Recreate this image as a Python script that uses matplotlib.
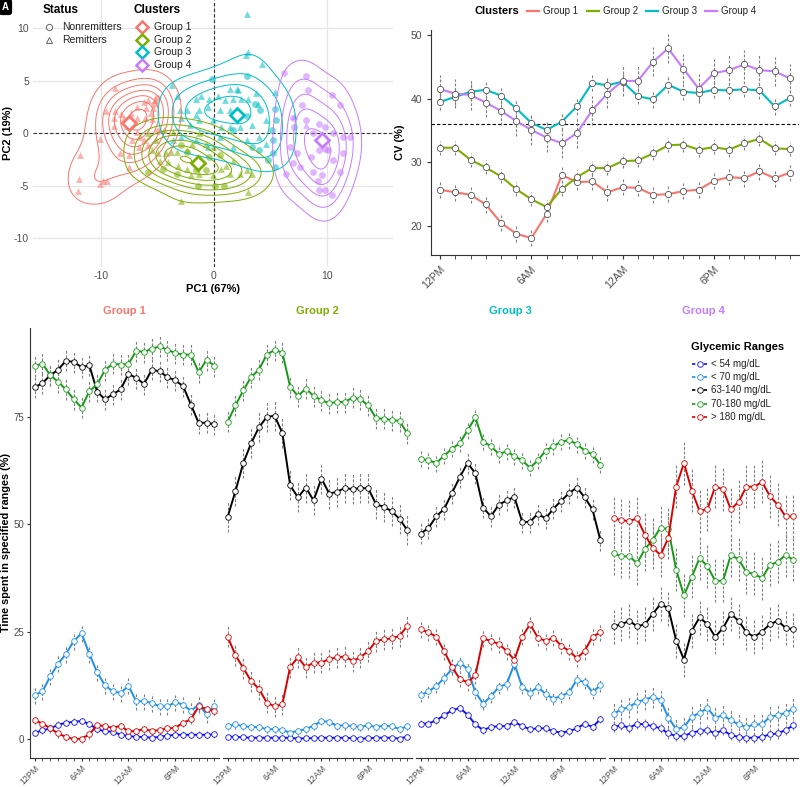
import numpy as np
import matplotlib
matplotlib.use("Agg")
import matplotlib.pyplot as plt
from matplotlib.lines import Line2D

plt.rcParams["font.family"] = ["Liberation Sans", "DejaVu Sans"]
plt.rcParams["axes.unicode_minus"] = False

W, H = 800, 787

# ---------------- data ----------------
CLUSTERS = ["Group 1", "Group 2", "Group 3", "Group 4"]
CLUSTER_COLORS = ["#F8766D", "#7CAE00", "#00BFC4", "#C77CFF"]
TIME_LABELS = ["12PM", "6AM", "12AM", "6PM"]
TIME_TICKS = [0, 6, 12, 18]
N_T = 24

# PCA scores (R = remitter, N = nonremitter)
g1_pc1 = [-8.7, -11.8, -11.9, -12.0, -10.1, -9.4, -10.1, -8.8, -9.5, -8.7, -8.2, -8.8, -7.9,
          -7.4, -6.8, -6.1, -6.5, -6.2, -5.8, -5.5, -5.4, -6.0, -7.3, -7.5, -9.8, -8.3, -7.5,
          -6.8, -6.2, -5.8, -5.2, -5.6, -6.8, -7.7, -7.2, -6.6, -5.3, -5.0, -4.9]
g1_pc2 = [4.3, -2.1, -4.4, -5.5, -4.9, -4.6, -0.6, 0.7, 2.1, 2.1, 1.8, 1.4, 1.4,
          1.1, 1.4, 1.4, -0.4, -0.7, -1.1, 1.3, 2.4, 2.4, 1.9, -3.2, -4.6, -1.9, -2.1,
          2.5, 3.0, 3.1, 3.1, 1.9, 0.1, 0.7, -0.7, -1.3, 2.8, 3.3, 0.2]
g1_status = "R" * 36 + "N" * 3

g2_pc1 = [-2.9, -5.5, -4.9, -4.2, -3.8, -3.3, -4.8, -4.1, -3.2, -2.4, -2.0, -1.3, -1.6,
          -2.4, -1.9, -0.7, -0.1, -0.1, 0.6, 1.1, 1.7, 1.4, 2.3, 3.0, 3.4, 2.9, -5.1,
          -5.8, -4.4, -3.6, -1.3,
          -5.8, -4.5, -3.3, -1.4, 0.1, 0.9, -0.4, 0.5, -2.4, -0.7, -1.6, -2.9]
g2_pc2 = [-6.5, -1.6, -1.9, -1.9, -1.8, -1.8, -2.7, -2.8, -3.1, -3.4, -4.0, -3.9, -2.6,
          -1.6, -1.0, -1.0, -1.3, -4.0, -3.4, -3.1, -2.7, -3.9, -3.9, -5.6, -3.9, -3.5, -0.7,
          0.0, 0.3, 0.1, 0.0,
          -3.7, -3.4, -3.9, -5.0, -5.0, -5.0, -2.3, -2.1, -1.8, -3.5, -3.5, -1.1]
g2_status = "R" * 31 + "N" * 12

g3_pc1 = [2.9, 3.0, 2.8, 4.2, 2.0, 2.1, 1.4, 2.4, 1.7, 1.0, 0.4, -0.4, -1.1, -1.6, -3.3,
          -3.7, -3.0, -2.4, -1.3, -0.5, 0.5, 1.4, 3.0, 3.7, 3.9, 4.6, 5.4, -1.6, -2.9, -2.1,
          -1.3, -0.1, 0.6, 1.4, 2.3, 3.4, 0.5, 1.7, 2.9, 4.0, 4.6, -1.6, -0.5, -2.9, -3.6,
          -0.2, 3.6, 4.1, 5.4, 5.5, 5.1, 5.2, 5.2, 4.8, 5.4, 4.0, 3.4, 2.9, 1.7, 2.9]
g3_pc2 = [11.3, 7.7, 7.4, 6.6, 4.2, 4.1, 4.2, 3.2, 3.2, 3.1, 3.5, 3.2, 3.5, 3.2, 3.5,
          4.6, 2.2, 2.2, 2.2, 2.5, 2.2, 2.2, 3.2, 3.8, 2.8, 1.2, 3.9, 1.7, 1.4, 0.8,
          1.2, 1.2, 0.6, 0.6, 0.6, 0.8, -0.4, -1.3, -0.7, -0.4, -1.0, -0.7, -1.3, -0.4, -0.7,
          5.1, 2.8, 2.2, 2.3, 1.2, 0.3, -0.7, -1.9, -2.6, -3.2, -1.6, -1.3, 5.4, 0.3, 1.6]
g3_status = "R" * 45 + "N" * 15

g4_pc1 = [6.2, 8.1, 8.3, 7.8, 10.4, 11.1, 7.0, 7.1, 8.1, 9.3, 9.8, 10.5, 11.4, 12.0, 6.7,
          7.3, 7.0, 6.4, 8.6, 9.3, 9.8, 10.1, 10.5, 11.4, 11.1, 8.7, 9.5, 9.2, 9.3, 9.8,
          10.4, 7.6, 8.7, 7.1, 8.1]
g4_pc2 = [5.7, 5.4, 4.1, 2.7, 3.6, 2.7, 1.4, 0.6, 1.2, 0.9, 0.6, 0.0, -0.4, -0.4, -1.3,
          -1.9, -2.9, -3.9, -2.3, -1.6, -1.5, -1.6, -2.6, -1.9, -3.7, -3.7, -4.0, -4.6, -5.4, -5.4,
          -5.9, -3.2, 0.0, 1.6, 0.8]
g4_status = "N" * 33 + "R" * 2

centroid_pc1 = [-7.5, -1.4, 2.0, 9.5]
centroid_pc2 = [0.95, -2.9, 1.7, -0.7]

# coefficient of variation (%) over the day
cv_g1 = [25.7, 25.3, 24.9, 23.4, 20.5, 18.8, 18.1, 21.9, 28.0, 26.9, 27.0, 25.3,
         26.1, 26.0, 24.9, 25.0, 25.5, 25.7, 27.1, 27.7, 27.5, 28.6, 27.5, 28.4]
cv_g2 = [32.3, 32.3, 30.4, 29.2, 27.8, 25.8, 24.2, 23.0, 25.8, 27.7, 29.1, 29.1,
         30.2, 30.3, 31.4, 32.7, 32.8, 32.0, 32.4, 32.0, 33.0, 33.7, 32.2, 32.1]
cv_g3 = [39.5, 40.3, 41.1, 41.4, 40.5, 38.5, 36.2, 35.1, 36.4, 38.8, 42.5, 42.1,
         42.7, 40.4, 39.9, 42.2, 41.1, 40.9, 41.4, 41.3, 41.5, 41.3, 38.8, 40.1]
cv_g4 = [41.5, 40.8, 40.6, 39.4, 38.1, 36.5, 35.1, 33.9, 33.0, 34.6, 38.2, 40.8,
         42.8, 42.8, 45.8, 47.9, 44.7, 41.6, 44.0, 44.5, 45.4, 44.5, 44.3, 43.2]
cv_err = [1.3, 1.1, 1.3, 2.3]
CV_THRESHOLD = 36

# time spent in glycemic ranges (%)
RANGES = ["< 54 mg/dL", "< 70 mg/dL", "63-140 mg/dL", "70-180 mg/dL", "> 180 mg/dL"]
RANGE_COLORS = ["#1010F0", "#1E8FEA", "#000000", "#169A16", "#D80000"]

g1_lt54 = [1.5, 2.0, 2.5, 3.3, 3.8, 4.0, 4.2, 3.5, 2.3, 1.8, 1.7, 1.0, 0.7, 0.5, 0.5, 0.3, 0.5, 0.8, 1.0, 1.0, 1.0, 1.0, 1.0, 1.1]
g1_lt70 = [10.2, 11.1, 14.6, 17.5, 19.8, 22.8, 24.6, 19.8, 15.5, 12.5, 11.1, 10.7, 12.4, 8.8, 8.8, 8.4, 7.6, 7.6, 8.6, 8.0, 6.6, 8.0, 5.8, 7.7]
g1_63_140 = [81.8, 82.8, 84.6, 85.9, 88.0, 87.7, 86.5, 86.9, 80.8, 79.0, 80.2, 81.3, 84.9, 84.0, 82.6, 85.9, 85.5, 84.2, 83.4, 82.1, 77.8, 73.5, 73.6, 73.2]
g1_70_180 = [86.8, 87.3, 84.6, 83.1, 81.3, 79.0, 77.1, 80.9, 82.5, 85.8, 87.3, 87.1, 87.2, 90.3, 90.0, 90.8, 91.3, 90.5, 89.8, 89.4, 89.4, 85.3, 88.2, 86.8]
g1_gt180 = [4.4, 3.6, 2.5, 1.3, 0.5, 0.0, 0.1, 1.1, 3.3, 3.0, 2.6, 3.1, 1.8, 1.9, 2.3, 1.9, 2.1, 2.5, 2.6, 3.8, 4.6, 7.6, 7.0, 6.5]

g2_lt54 = [0.6, 0.5, 0.4, 0.3, 0.3, 0.3, 0.3, 0.3, 0.3, 0.1, 0.2, 0.2, 0.3, 0.3, 0.3, 0.3, 0.2, 0.1, 0.2, 0.3, 0.3, 0.3, 0.1, 0.6]
g2_lt70 = [3.0, 3.4, 3.0, 2.8, 2.8, 2.3, 2.3, 2.1, 1.5, 1.9, 2.3, 3.1, 4.2, 4.0, 3.1, 3.2, 3.0, 2.8, 3.2, 2.8, 3.1, 3.0, 2.3, 3.0]
g2_63_140 = [51.7, 57.7, 64.2, 68.8, 72.5, 74.9, 75.2, 71.2, 59.0, 56.2, 58.5, 55.5, 60.6, 57.1, 57.5, 58.4, 58.1, 58.4, 58.3, 54.6, 54.0, 53.0, 51.2, 48.6]
g2_70_180 = [73.8, 77.6, 81.1, 84.2, 85.9, 89.4, 90.5, 89.9, 81.9, 79.8, 81.5, 79.8, 78.8, 78.1, 78.4, 78.4, 79.4, 79.0, 77.6, 74.6, 74.5, 74.2, 74.0, 71.1]
g2_gt180 = [23.8, 19.5, 16.5, 13.5, 11.7, 8.5, 7.6, 8.1, 16.8, 19.0, 16.7, 17.8, 17.8, 18.6, 19.0, 19.2, 18.2, 19.0, 20.5, 22.8, 23.2, 23.4, 24.0, 26.3]

g3_lt54 = [3.6, 3.6, 4.4, 5.5, 6.7, 7.2, 5.7, 3.4, 2.1, 2.8, 3.0, 3.0, 4.0, 3.0, 2.3, 2.5, 2.5, 1.8, 1.5, 1.8, 2.5, 3.6, 2.8, 4.6]
g3_lt70 = [10.2, 11.1, 12.3, 14.2, 16.3, 17.8, 16.3, 10.9, 8.2, 10.0, 12.1, 12.8, 17.5, 12.1, 10.8, 12.1, 10.5, 9.4, 10.0, 10.9, 13.8, 13.2, 10.9, 12.5]
g3_63_140 = [47.8, 49.1, 51.8, 53.5, 57.2, 60.9, 64.2, 61.8, 53.8, 51.8, 54.5, 55.5, 56.3, 50.5, 50.5, 52.4, 51.3, 53.6, 55.4, 57.2, 58.5, 56.2, 53.4, 46.3]
g3_70_180 = [65.2, 64.8, 64.2, 65.9, 67.5, 68.8, 71.8, 74.8, 69.2, 68.1, 66.3, 66.9, 65.8, 64.8, 63.1, 64.8, 67.1, 68.1, 69.2, 69.5, 68.6, 67.1, 66.2, 63.8]
g3_gt180 = [25.5, 24.8, 23.8, 20.5, 16.8, 14.0, 13.2, 14.8, 23.4, 22.8, 22.1, 20.5, 18.4, 23.8, 26.7, 23.6, 22.8, 23.6, 21.7, 20.5, 18.8, 20.5, 23.8, 24.8]

g4_lt54 = [2.8, 3.2, 2.6, 3.6, 3.4, 3.0, 2.5, 1.3, 0.7, 0.7, 1.5, 1.9, 2.1, 1.3, 2.1, 0.9, 0.5, 0.3, 0.3, 0.5, 1.1, 1.3, 2.1, 3.2]
g4_lt70 = [5.9, 6.9, 7.5, 8.6, 9.2, 9.8, 9.1, 5.0, 2.3, 2.8, 5.2, 6.1, 7.2, 5.0, 5.5, 4.4, 3.4, 2.8, 3.4, 3.4, 5.2, 5.5, 6.1, 7.1]
g4_63_140 = [26.2, 26.7, 27.5, 26.2, 26.7, 29.1, 31.4, 30.4, 22.9, 18.5, 25.2, 28.3, 26.7, 23.8, 25.8, 29.1, 27.5, 24.8, 23.8, 25.0, 26.7, 27.5, 25.9, 25.5]
g4_70_180 = [43.2, 42.5, 42.5, 40.9, 44.2, 46.3, 49.2, 48.8, 39.4, 33.4, 37.7, 42.1, 40.2, 36.8, 36.8, 42.8, 41.8, 38.8, 38.4, 37.4, 40.5, 41.2, 42.8, 41.7]
g4_gt180 = [51.3, 50.9, 50.7, 51.3, 47.5, 44.5, 42.8, 46.8, 58.7, 64.2, 57.8, 53.0, 53.5, 58.7, 58.1, 53.4, 55.2, 58.7, 58.7, 59.8, 56.5, 54.5, 51.8, 51.8]

# standard errors, order: <54, <70, 63-140, 70-180, >180
g1_err = [0.8, 2.0, 2.5, 2.5, 1.0]
g2_err = [0.5, 1.0, 3.5, 2.5, 2.5]
g3_err = [0.9, 1.5, 2.5, 2.0, 2.0]
g4_err = [1.2, 2.5, 4.0, 5.0, 5.0]

GREY_TXT = "#4D4D4D"
AXIS_COL = "#333333"
ERR_COL = "#7F7F7F"
ERR_DASH = (0, (2.5, 1.5))


def px_axes(fig, x0, y0, x1, y1):
    return fig.add_axes([x0 / W, 1 - y1 / H, (x1 - x0) / W, (y1 - y0) / H])


def bw_nrd(v):
    q1, q3 = np.percentile(v, [25, 75])
    return 4 * 1.06 * min(np.std(v, ddof=1), (q3 - q1) / 1.34) * len(v) ** -0.2


def kde2d(x, y, gx, gy, adjust=1.5):
    hx, hy = adjust * bw_nrd(x) / 4, adjust * bw_nrd(y) / 4
    kx = np.exp(-0.5 * ((gx[None, :] - x[:, None]) / hx) ** 2) / np.sqrt(2 * np.pi)
    ky = np.exp(-0.5 * ((gy[None, :] - y[:, None]) / hy) ** 2) / np.sqrt(2 * np.pi)
    return ky.T @ kx / (len(x) * hx * hy)


fig = plt.figure(figsize=(W / 100, H / 100), dpi=100)

# ---------------- A: PCA ----------------
ax = px_axes(fig, 33, 0, 393, 267)
ax.set_xlim(-15.97, 15.8)
ax.set_ylim(-12.76, 12.67)
for s in ax.spines.values():
    s.set_visible(False)
ax.set_xticks([-10, 0, 10])
ax.set_yticks([-10, -5, 0, 5, 10])
ax.grid(True, color="#E6E6E6", lw=0.9)
ax.set_axisbelow(True)
ax.tick_params(length=0, labelsize=7.5, labelcolor=GREY_TXT, pad=3)
ax.axhline(0, color="#333333", lw=0.8, ls=(0, (3, 2)), zorder=1)
ax.axvline(0, color="#333333", lw=0.8, ls=(0, (3, 2)), zorder=1)

pcs = [(g1_pc1, g1_pc2, g1_status), (g2_pc1, g2_pc2, g2_status),
       (g3_pc1, g3_pc2, g3_status), (g4_pc1, g4_pc2, g4_status)]
all_x = np.concatenate([np.array(p[0]) for p in pcs])
all_y = np.concatenate([np.array(p[1]) for p in pcs])
gx = np.linspace(all_x.min() - 3, all_x.max() + 3, 140)
gy = np.linspace(all_y.min() - 3, all_y.max() + 3, 140)
dens = [kde2d(np.array(px), np.array(py), gx, gy) for px, py, _ in pcs]
zmax = max(d.max() for d in dens)
levels = zmax * np.arange(1, 8) / 7.5

for (px, py, st), d, col in zip(pcs, dens, CLUSTER_COLORS):
    px, py = np.array(px), np.array(py)
    st = np.array(list(st))
    for code, mk in (("N", "o"), ("R", "^")):
        m = st == code
        ax.scatter(px[m], py[m], marker=mk, s=24, color=col, alpha=0.55, lw=0, zorder=2)
    ax.contour(gx, gy, d, levels=levels, colors=col, linewidths=0.7, zorder=3)

for cx, cy, col in zip(centroid_pc1, centroid_pc2, CLUSTER_COLORS):
    ax.plot(cx, cy, marker="D", ms=7, mfc="white", mec=col, mew=2, zorder=5)

ax.set_xlabel("PC1 (67%)", fontsize=8, fontweight="bold", labelpad=2)
ax.set_ylabel("PC2 (19%)", fontsize=8, fontweight="bold")
ax.yaxis.set_label_coords(-20 / 360, 0.5)

# legends of panel A
fig.text(43 / W, 1 - 10 / H, "Status", fontsize=8.5, fontweight="bold", va="center")
for i, (lab, mk) in enumerate((("Nonremitters", "o"), ("Remitters", "^"))):
    yy = 1 - (27 + 12.6 * i) / H
    fig.add_artist(Line2D([49 / W], [yy], marker=mk, ms=4.5, mfc="none", mec="#666666", mew=0.7, ls="none"))
    fig.text(62 / W, yy, lab, fontsize=7.5, va="center", color="#222222")
fig.text(134 / W, 1 - 10 / H, "Clusters", fontsize=8.5, fontweight="bold", va="center")
for i, (lab, col) in enumerate(zip(CLUSTERS, CLUSTER_COLORS)):
    yy = 1 - (27 + 12.7 * i) / H
    fig.add_artist(Line2D([142 / W], [yy], marker="D", ms=6, mfc="white", mec=col, mew=1.8, ls="none"))
    fig.text(154 / W, yy, lab, fontsize=7.5, va="center", color="#222222")

fig.text(2 / W, 1 - 2 / H, "A", fontsize=7, color="white", fontweight="bold", va="top",
         bbox=dict(boxstyle="round,pad=0.25", fc="black", ec="black"))

# ---------------- B: CV over the day ----------------
t = np.arange(N_T)
ax = px_axes(fig, 431, 30, 799, 255)
ax.set_xlim(-0.6, 23.6)
ax.set_ylim(15.45, 50.8)
ax.axhline(CV_THRESHOLD, color="black", lw=0.8, ls=(0, (3, 2)), zorder=1)
for vals, err, col in zip([cv_g1, cv_g2, cv_g3, cv_g4], cv_err, CLUSTER_COLORS):
    v = np.array(vals)
    ax.vlines(t, v - err, v + err, colors=ERR_COL, linestyles=ERR_DASH, lw=0.8, zorder=2)
    ax.plot(t, v, color=col, lw=1.5, zorder=3)
    ax.plot(t, v, ls="none", marker="o", ms=4.5, mfc="white", mec="#555555", mew=0.6, zorder=4)
ax.spines[["top", "right"]].set_visible(False)
for s in ("left", "bottom"):
    ax.spines[s].set_color(AXIS_COL)
    ax.spines[s].set_linewidth(0.8)
ax.set_yticks([20, 30, 40, 50])
ax.set_xticks(TIME_TICKS)
ax.set_xticks(t, minor=True)
ax.set_xticklabels(TIME_LABELS, rotation=45, ha="right", va="top", rotation_mode="anchor")
ax.tick_params(axis="both", which="both", length=3, color=AXIS_COL, labelsize=7.5, labelcolor=GREY_TXT)
ax.set_ylabel("CV (%)", fontsize=8, fontweight="bold", labelpad=4)

fig.text(497 / W, 1 - 11 / H, "Clusters", fontsize=8, fontweight="bold", va="center", ha="center")
for x0, lab, col in zip([527, 587, 646, 705], CLUSTERS, CLUSTER_COLORS):
    fig.add_artist(Line2D([x0 / W, (x0 + 12) / W], [1 - 11 / H] * 2, color=col, lw=1.6))
    fig.text((x0 + 16) / W, 1 - 11 / H, lab, fontsize=7, va="center", color="#222222")

# ---------------- C: time in ranges ----------------
tir = [[g1_lt54, g1_lt70, g1_63_140, g1_70_180, g1_gt180],
       [g2_lt54, g2_lt70, g2_63_140, g2_70_180, g2_gt180],
       [g3_lt54, g3_lt70, g3_63_140, g3_70_180, g3_gt180],
       [g4_lt54, g4_lt70, g4_63_140, g4_70_180, g4_gt180]]
errs = [g1_err, g2_err, g3_err, g4_err]

for k, (grp, gcol) in enumerate(zip(CLUSTERS, CLUSTER_COLORS)):
    x0 = 30 + k * 193
    ax = px_axes(fig, x0, 328, x0 + 189, 758)
    ax.set_xlim(-0.6, 23.6)
    ax.set_ylim(-4.4, 95.6)
    for vals, err, col in zip(tir[k], errs[k], RANGE_COLORS):
        v = np.array(vals)
        ax.vlines(t, v - err, v + err, colors=ERR_COL, linestyles=ERR_DASH, lw=0.8, zorder=2)
        ax.plot(t, v, color=col, lw=1.4, marker="o", ms=4, mfc="white", mec=col, mew=0.6, zorder=3)
    ax.spines[["top", "right"]].set_visible(False)
    ax.spines["bottom"].set_color(AXIS_COL)
    ax.spines["bottom"].set_linewidth(0.8)
    ax.set_xticks(TIME_TICKS)
    ax.set_xticks(t, minor=True)
    ax.set_xticklabels(TIME_LABELS, rotation=45, ha="right", va="top", rotation_mode="anchor")
    ax.tick_params(axis="x", which="both", length=2.5, color=AXIS_COL, labelsize=6.3,
                   labelcolor=GREY_TXT, pad=1.5)
    if k == 0:
        ax.spines["left"].set_color(AXIS_COL)
        ax.spines["left"].set_linewidth(0.8)
        ax.set_yticks([0, 25, 50, 75])
        ax.tick_params(axis="y", length=2.5, color=AXIS_COL, labelsize=7, labelcolor=GREY_TXT, pad=1.5)
        ax.set_ylabel("Time spent in specified ranges (%)", fontsize=7.8, fontweight="bold")
        ax.yaxis.set_label_coords(-18.5 / 189, 0.5)
    else:
        ax.spines["left"].set_visible(False)
        ax.set_yticks([])
    ax.set_title(grp, color=gcol, fontsize=8, fontweight="bold", pad=10)

fig.text(738 / W, 1 - 347 / H, "Glycemic Ranges", fontsize=8, fontweight="bold", ha="center", va="center")
for i, (lab, col) in enumerate(zip(RANGES, RANGE_COLORS)):
    yy = 1 - (364 + 13.2 * i) / H
    fig.add_artist(Line2D([692 / W, 707 / W], [yy, yy], color=col, lw=1.2, ls=(0, (2, 1.5))))
    fig.add_artist(Line2D([699.5 / W], [yy], marker="o", ms=4, mfc="white", mec=col, mew=0.6, ls="none"))
    fig.text(711 / W, yy, lab, fontsize=7, va="center", color="#222222")

fig.savefig("out.png", dpi=100)
